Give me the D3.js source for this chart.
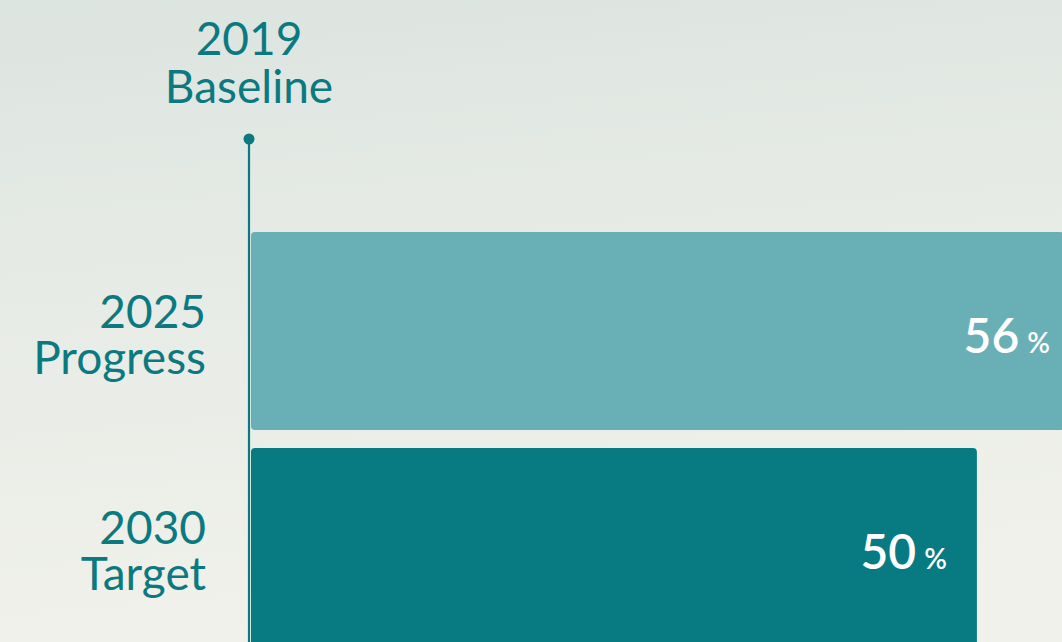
<!DOCTYPE html>
<html>
<head>
<meta charset="utf-8">
<script src="https://cdn.jsdelivr.net/npm/d3@7"></script>
<style>
html,body{margin:0;padding:0;overflow:hidden;}
body{width:1062px;height:642px;}
</style>
</head>
<body>
<svg id="chart" width="1062" height="642"></svg>
<script>
const categories = ["2025|Progress", "2030|Target"];
const values = [56, 50];
const barColors = ["#69b0b6", "#077a82"];
const baselineLabel = ["2019", "Baseline"];

const W = 1062, H = 642;
const svg = d3.select("#chart");
const defs = svg.append("defs");
const grad = defs.append("linearGradient").attr("id","bg").attr("x1","0").attr("y1","0").attr("x2","0.15").attr("y2","1");
grad.append("stop").attr("offset","0").attr("stop-color","#dce4df");
grad.append("stop").attr("offset","0.45").attr("stop-color","#e7ebe6");
grad.append("stop").attr("offset","1").attr("stop-color","#f0f1ea");
svg.append("rect").attr("width",W).attr("height",H).attr("fill","url(#bg)");

const teal = "#0b7a80";
const x = d3.scaleLinear().domain([0, 56]).range([251, 1064]);
const y = d3.scaleBand().domain(categories).range([232, 646]).paddingInner(0.083).paddingOuter(0);

// baseline line and dot
svg.append("line").attr("x1",249).attr("x2",249).attr("y1",139).attr("y2",H)
  .attr("stroke",teal).attr("stroke-width",2.2);
svg.append("circle").attr("cx",249).attr("cy",139).attr("r",5.5).attr("fill",teal);

// baseline label
const bl = svg.append("text").attr("x",249).attr("text-anchor","middle")
  .attr("font-family","Lato, sans-serif").attr("font-size",46).attr("fill",teal);
bl.append("tspan").attr("x",249).attr("y",55).text(baselineLabel[0]);
bl.append("tspan").attr("x",249).attr("y",103).text(baselineLabel[1]);

// bars
const data = categories.map((c,i)=>({c, v:values[i], color:barColors[i]}));
svg.selectAll("rect.bar").data(data).enter().append("rect").attr("class","bar")
  .attr("x", x(0)).attr("y", d=>y(d.c)).attr("width", d=>x(d.v)-x(0)).attr("height", y.bandwidth())
  .attr("rx",4).attr("fill", d=>d.color);

// category labels
data.forEach(d=>{
  const parts = d.c.split("|");
  const cy = y(d.c) + 96;
  const t = svg.append("text").attr("text-anchor","end")
    .attr("font-family","Lato, sans-serif").attr("font-size",46).attr("fill",teal);
  t.append("tspan").attr("x",206).attr("y",cy).text(parts[0]);
  t.append("tspan").attr("x",206).attr("y",cy+46).text(parts[1]);
});

// value labels
data.forEach(d=>{
  const endX = Math.min(x(d.v), W) - (x(d.v) > W ? 12 : 30);
  const t = svg.append("text").attr("text-anchor","end")
    .attr("x", endX).attr("y", y(d.c) + 121)
    .attr("font-family","Lato, sans-serif").attr("fill","#ffffff").attr("font-weight",600);
  t.append("tspan").attr("font-size",48).text(d.v);
  t.append("tspan").attr("font-size",28).attr("dx",8).text("%");
});
</script>
</body>
</html>
